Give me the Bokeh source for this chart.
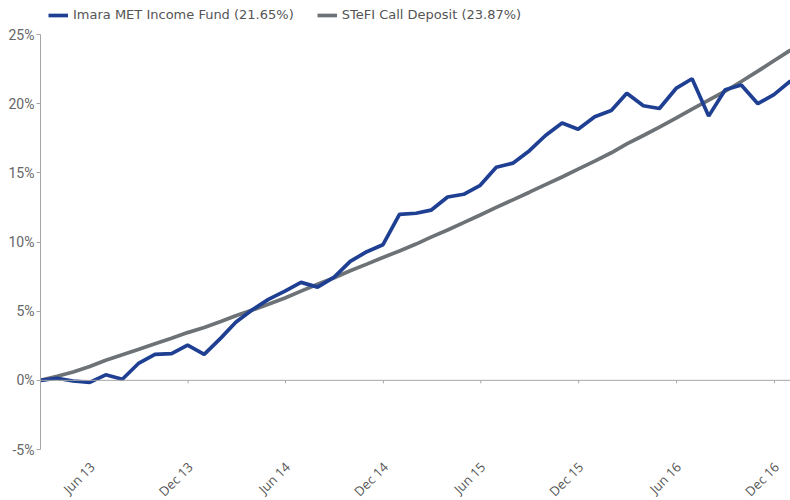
import math
import pandas as pd
from bokeh.plotting import figure
from bokeh.models import (FixedTicker, PrintfTickFormatter, Legend, LegendItem,
                          Range1d, Span)
from bokeh.core.properties import value
from bokeh.embed import file_html
from bokeh.resources import INLINE

# month-end dates Feb 2013 .. Dec 2016
month_starts = pd.date_range("2013-03-01", "2017-01-01", freq="MS")
dates = list(month_starts - pd.Timedelta(days=1))

imara = [0.0, 0.15, -0.05, -0.15, 0.4, 0.08, 1.25, 1.88, 1.93, 2.55,
         1.88, 3.05, 4.2, 5.1, 5.85, 6.45, 7.08, 6.74, 7.46, 8.6,
         9.3, 9.8, 12.0, 12.08, 12.3, 13.25, 13.45, 14.1, 15.4, 15.7,
         16.6, 17.7, 18.6, 18.15, 19.05, 19.5, 20.75, 19.85, 19.65, 21.1,
         21.8, 19.1, 21.0, 21.35, 20.0, 20.65, 21.65]
stefi = [0.0, 0.3, 0.6, 1.0, 1.45, 1.85, 2.25, 2.65, 3.05, 3.45,
         3.82, 4.25, 4.67, 5.08, 5.5, 5.95, 6.45, 6.95, 7.42, 7.92,
         8.4, 8.88, 9.35, 9.85, 10.35, 10.87, 11.4, 11.95, 12.5, 13.05,
         13.6, 14.15, 14.7, 15.27, 15.85, 16.45, 17.1, 17.7, 18.3, 18.95,
         19.6, 20.25, 20.9, 21.6, 22.35, 23.1, 23.87]
series_names = ["Imara MET Income Fund (21.65%)", "STeFI Call Deposit (23.87%)"]
series_colors = ["#1f3f93", "#6d7277"]
tick_dates = ["2013-06-01", "2013-12-01", "2014-06-01", "2014-12-01",
              "2015-06-01", "2015-12-01", "2016-06-01", "2016-12-01"]
tick_labels = ["Jun 13", "Dec 13", "Jun 14", "Dec 14",
               "Jun 15", "Dec 15", "Jun 16", "Dec 16"]
y_ticks = [-5, 0, 5, 10, 15, 20, 25]

tick_ms = [pd.Timestamp(d).value / 1e6 for d in tick_dates]
axis_color = "#a6a6a6"

# layout in pixels: y axis spans from y=34 (25%) to y=449 (-5%);
# the frame covers the full height so legend and date labels have room
W, H = 790, 500
axis_top_px, axis_bottom_px = 34, 449
y_lo, y_hi = y_ticks[0], y_ticks[-1]
px_per_unit = (axis_bottom_px - axis_top_px) / (y_hi - y_lo)
y_top = y_hi + axis_top_px / px_per_unit
y_bottom = y_lo - (H - axis_bottom_px) / px_per_unit

p = figure(width=W, height=H, x_axis_location=None,
           output_backend="svg", toolbar_location=None,
           x_range=Range1d(dates[0], dates[-1]), y_range=Range1d(y_bottom, y_top),
           min_border_left=40, min_border_right=0, min_border_top=0,
           min_border_bottom=0)
p.outline_line_color = None
p.xgrid.visible = False
p.ygrid.visible = False

# zero line with downward tick marks
p.add_layout(Span(location=0, dimension="width", line_color=axis_color, line_width=1))
p.ray(x=tick_ms, y=[0] * len(tick_ms), length=3, angle=-math.pi / 2,
      length_units="screen", line_color=axis_color, line_width=1)

# rotated date labels below the plot area
p.text(x=tick_ms, y=[y_lo] * len(tick_ms), text=tick_labels, angle=math.pi / 4,
       x_offset=2, y_offset=15, text_align="right", text_baseline="middle",
       text_font=value("Open Sans"), text_font_size="13px", text_color="#555555")

ya = p.yaxis[0]
ya.ticker = FixedTicker(ticks=y_ticks)
ya.bounds = (y_lo, y_hi)
ya.formatter = PrintfTickFormatter(format="%d%%")
ya.axis_line_color = axis_color
ya.major_tick_line_color = axis_color
ya.major_tick_out = 4
ya.major_tick_in = 0
ya.minor_tick_line_color = None
ya.major_label_text_font = "Roboto"
ya.major_label_text_font_size = "14px"
ya.major_label_text_color = "#666666"
ya.major_label_standoff = 2

r2 = p.line(dates, stefi, line_color=series_colors[1], line_width=3.7)
r1 = p.line(dates, imara, line_color=series_colors[0], line_width=3.7)

legend = Legend(items=[LegendItem(label=series_names[0], renderers=[r1]),
                       LegendItem(label=series_names[1], renderers=[r2])],
                orientation="horizontal", location=(8, H - 22),
                glyph_width=20, glyph_height=14, padding=0, margin=0,
                spacing=23, label_standoff=5,
                label_text_font="DejaVu Sans", label_text_font_size="13px",
                label_text_color="#555555", border_line_color=None,
                background_fill_alpha=0)
p.add_layout(legend, "center")

open("out.html", "w").write(file_html(p, INLINE))
